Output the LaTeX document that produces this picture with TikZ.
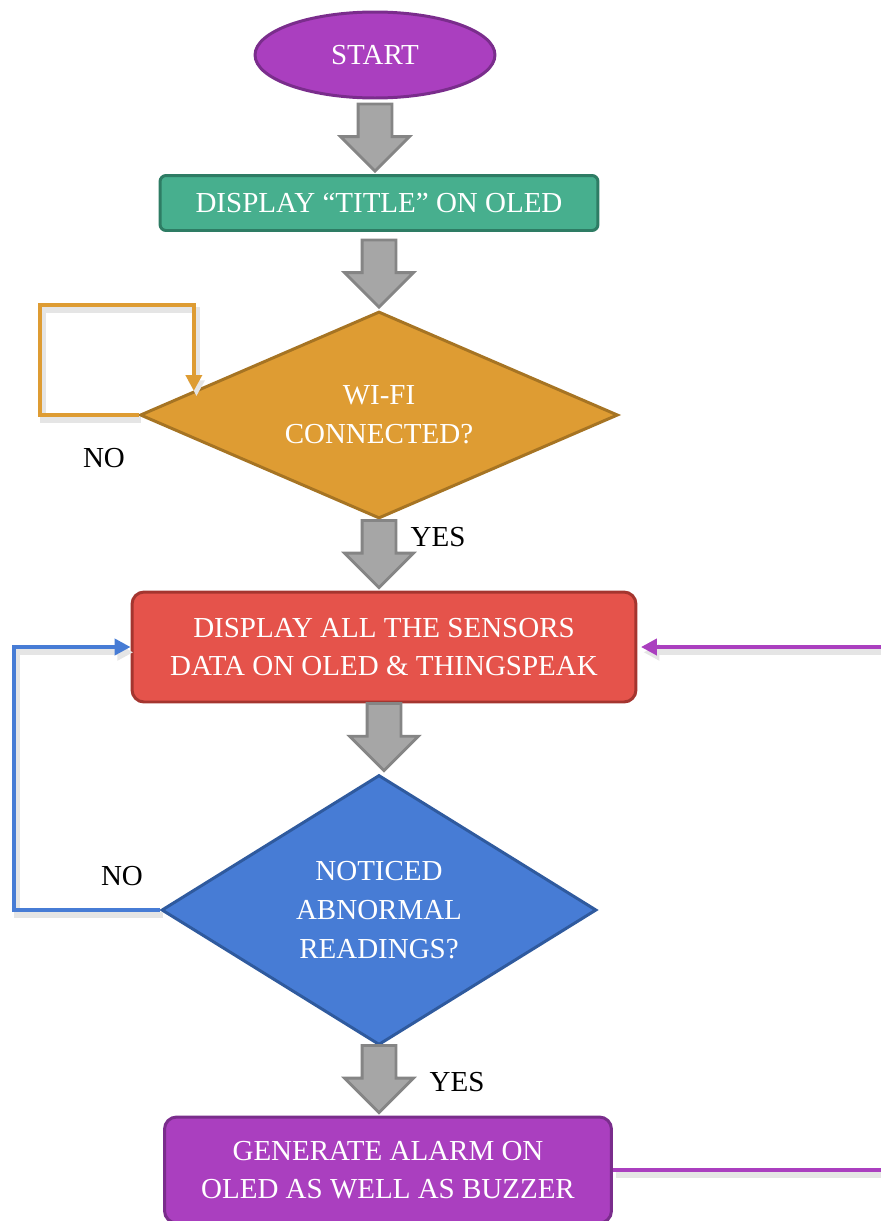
\documentclass[tikz,border=0pt]{standalone}
\usepackage{fontspec}
\setmainfont{Liberation Serif}
\usetikzlibrary{positioning,calc,arrows.meta,shapes.geometric,shapes.arrows}

\definecolor{startpurple}{HTML}{AA3FBF}
\definecolor{startborder}{HTML}{7A2D8C}
\definecolor{titleteal}{HTML}{47AF8E}
\definecolor{titleborder}{HTML}{2E7C64}
\definecolor{wifiorange}{HTML}{DE9C33}
\definecolor{wifiborder}{HTML}{A67423}
\definecolor{sensorred}{HTML}{E5534B}
\definecolor{sensorborder}{HTML}{A4352F}
\definecolor{readblue}{HTML}{477CD5}
\definecolor{readborder}{HTML}{2F5A9E}
\definecolor{arrowgray}{HTML}{A6A6A6}
\definecolor{arrowborder}{HTML}{858585}

\begin{document}
\begin{tikzpicture}[x=0.02cm, y=-0.02cm] %Organigramme capteurs
		\tikzstyle{txt} = [text=white, align=center, font=\fontsize{16.5}{22}\selectfont, inner sep=0pt]
		\tikzstyle{startnode} = [txt, ellipse, draw=startborder, line width=1.7pt, fill=startpurple, minimum width=4.8cm, minimum height=1.72cm]
		\tikzstyle{procbox} = [txt, rectangle, line width=1.7pt, rounded corners=0.2cm]
		\tikzstyle{decision} = [txt, diamond, line width=1.7pt]
		\tikzstyle{grayarrow} = [single arrow, draw=arrowborder, fill=arrowgray, line width=1.6pt, rotate=-90, inner xsep=0pt, inner ysep=0.31cm, minimum height=1.34cm, single arrow head extend=0.35cm, single arrow tip angle=90, anchor=tip]
		\tikzstyle{loopline} = [line width=2.6pt, preaction={draw=black!10, line width=3.5pt, transform canvas={shift={(1.5pt,-3pt)}}}]
		\tikzstyle{answer} = [font=\fontsize{16.5}{22}\selectfont, inner sep=0pt]
		\useasboundingbox (0,0) rectangle (880,1221);
		\node[startnode] (start) at (375,55) {START};
		\node[procbox, draw=titleborder, fill=titleteal, minimum width=8.76cm, minimum height=1.1cm, rounded corners=0.12cm] (title) at (379,203) {DISPLAY “TITLE” ON OLED};
		\node[decision, draw=wifiborder, fill=wifiorange, minimum width=9.56cm, minimum height=4.14cm, shape aspect=2.3] (wifi) at (379,415) {WI-FI\\CONNECTED?};
		\node[procbox, draw=sensorborder, fill=sensorred, minimum width=10.08cm, minimum height=2.2cm, rounded corners=0.24cm] (sensors) at (384,647) {DISPLAY ALL THE SENSORS\\DATA ON OLED \& THINGSPEAK};
		\node[decision, draw=readborder, fill=readblue, minimum width=8.7cm, minimum height=5.4cm, shape aspect=1.6] (noticed) at (379,910) {NOTICED\\ABNORMAL\\READINGS?};
		\node[procbox, draw=startborder, fill=startpurple, minimum width=8.94cm, minimum height=2.12cm, rounded corners=0.24cm] (alarm) at (388,1170) {GENERATE ALARM ON\\OLED AS WELL AS BUZZER};
		\foreach \a/\b [count=\i] in {start/title, title/wifi, wifi/sensors, sensors/noticed, noticed/alarm}
		{
			\node[grayarrow] (arrow\i) at ($(\b.north -| \a.south)+(0,-1)$) {};
		}
		\node[answer] (no1) at (104,458) {NO};
		\node[answer] (yes1) at (438,537) {YES};
		\node[answer] (no2) at (122,876) {NO};
		\node[answer] (yes2) at (457,1082) {YES};
		\draw[loopline, draw=wifiorange, -{Triangle[length=9pt, width=9pt]}] (wifi.west) -- (40,415) -- (40,305) -| ($(wifi.west)!0.23!(wifi.north)$);
		\draw[loopline, draw=readblue, -{Triangle[length=9pt, width=9pt]}] (noticed.west) -- (14,910) |- (sensors.west);
		\draw[loopline, draw=startpurple, -{Triangle[length=9pt, width=9pt]}, shorten >=2pt] (alarm.east) -- (886,1170) |- (sensors.east);
\end{tikzpicture}
\end{document}
